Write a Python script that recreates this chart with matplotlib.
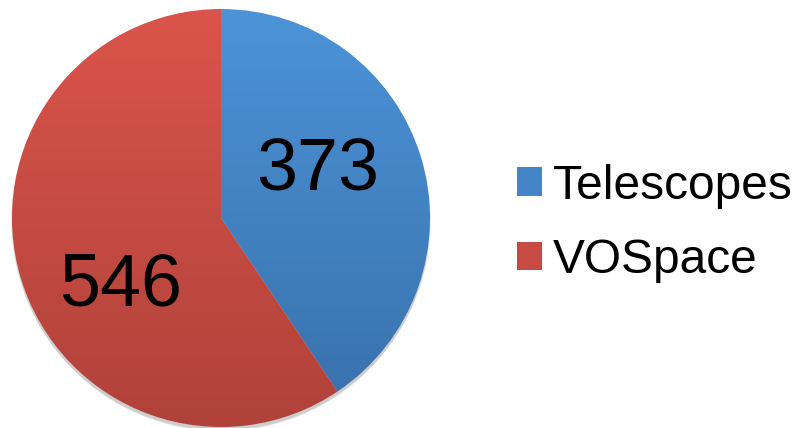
import numpy as np
import matplotlib.pyplot as plt
from matplotlib.colors import LinearSegmentedColormap
from matplotlib.patches import Patch, Circle

plt.rcParams['font.family'] = ['Liberation Sans', 'DejaVu Sans']

labels = ['Telescopes', 'VOSpace']
values = [373, 546]
top_colors = ['#4C93D8', '#DA544B']
bot_colors = ['#3870AA', '#B0423A']

fig = plt.figure(figsize=(8, 4.28), dpi=100)
ax = fig.add_axes([0, 0, 1, 1])

cx, cy, r = 221, 210, 209

# soft shadow under the pie
for i in range(4):
    ax.add_patch(Circle((cx, cy - 2 - i), r + 1 - i * 0.5, color='black', alpha=0.05, lw=0, zorder=0))

wedges, _ = ax.pie(values, center=(cx, cy), radius=r, startangle=90, counterclock=False,
                   wedgeprops=dict(lw=0), frame=True)
ax.set_xlim(0, 800)
ax.set_ylim(0, 428)
ax.set_aspect('equal')
ax.axis('off')

# vertical gradient fill for each slice
grad = np.linspace(1, 0, 256).reshape(-1, 1)
for w, c0, c1 in zip(wedges, top_colors, bot_colors):
    cmap = LinearSegmentedColormap.from_list('g', [c1, c0])
    w.set_facecolor('none')
    im = ax.imshow(grad, cmap=cmap, extent=(cx - r, cx + r, cy - r, cy + r),
                   aspect='auto', origin='upper', zorder=2, vmin=0, vmax=1)
    im.set_clip_path(w)

# value labels
ax.text(318, 428 - 190, str(values[0]), fontsize=53, ha='center', va='baseline', zorder=3)
ax.text(121, 428 - 306, str(values[1]), fontsize=53, ha='center', va='baseline', zorder=3)

handles = [Patch(facecolor=c, edgecolor='none') for c in ['#4385C6', '#C84B43']]
ax.legend(handles, labels, loc='center left', bbox_to_anchor=(0.646, 0.478), frameon=False,
          fontsize=34.5, handlelength=0.53, handleheight=0.53, handletextpad=0.22,
          labelspacing=0.62, borderpad=0, borderaxespad=0)

fig.savefig('out.png', dpi=100, facecolor='white')
